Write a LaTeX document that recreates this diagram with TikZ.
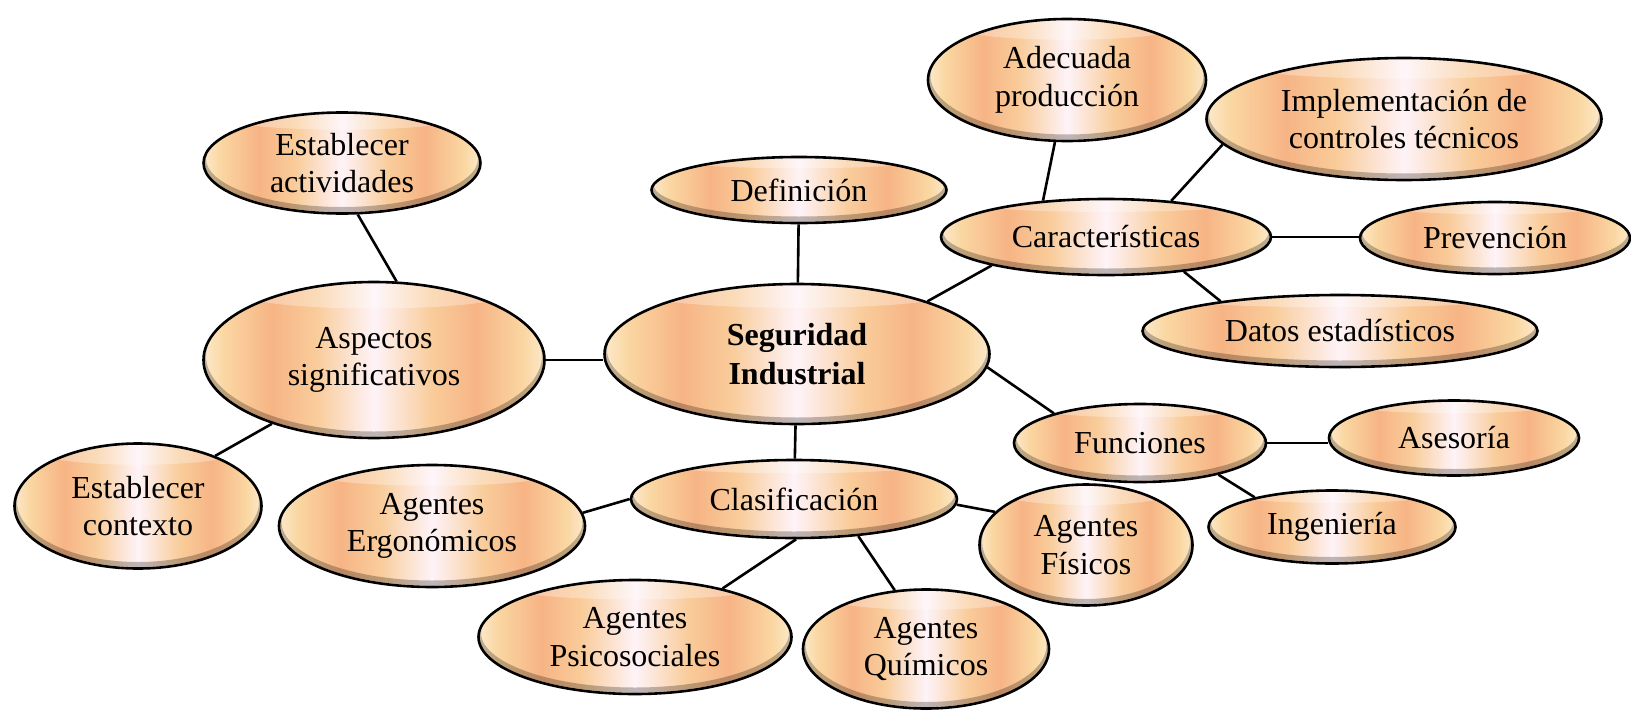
\documentclass[tikz,border=0pt]{standalone}
\usepackage{fontspec}
\setmainfont{Liberation Serif}
\usetikzlibrary{shapes.geometric,calc}
\definecolor{oedge}{HTML}{FCE9CC}
\definecolor{ocream}{HTML}{FAD7A2}
\definecolor{opeach}{HTML}{F7B485}
\definecolor{olight}{HTML}{F9CC9A}
\definecolor{ocenter}{HTML}{FEF3F8}
\pgfdeclarehorizontalshading{orbshade}{100bp}{color(0bp)=(oedge); color(25bp)=(oedge); color(28bp)=(ocream); color(35bp)=(opeach); color(41.5bp)=(olight); color(50bp)=(ocenter); color(58.5bp)=(olight); color(65bp)=(opeach); color(72bp)=(ocream); color(75bp)=(oedge); color(100bp)=(oedge)}
\tikzset{
  bubble/.style={ellipse, draw=black, line width=2.6pt, shading=orbshade, inner sep=0pt,
    align=center, font=\fontsize{32}{37.5}\selectfont,
    path picture={
      \fill[white,opacity=.3] let \p1=(path picture bounding box.south west),
        \p2=(path picture bounding box.north east), \n1={(\x2-\x1)/2}, \n2={(\y2-\y1)/2} in
        ($(path picture bounding box.center)+(0pt,{0.86*\n2*1pt})$) ellipse ({0.8*\n1*1pt} and {0.2*\n2*1pt});
      \draw[black,opacity=.25,line width=5pt] let \p1=(path picture bounding box.south west),
        \p2=(path picture bounding box.north east), \n1={(\x2-\x1)/2}, \n2={(\y2-\y1)/2} in
        ($(path picture bounding box.center)+(0pt,4pt)$) ellipse ({\n1*1pt} and {\n2*1pt});
    }},
  link/.style={draw=black, line width=2.6pt}
}
\begin{document}
\begin{tikzpicture}[x=1pt,y=-1pt]
\useasboundingbox (0,0) rectangle (1631,712);
\node[bubble, minimum width=277pt, minimum height=101pt] (ea) at (342,163) {Establecer\\actividades};
\node[bubble, minimum width=295pt, minimum height=66pt] (def) at (799,190) {Definición};
\node[bubble, minimum width=278pt, minimum height=122pt] (ad) at (1067,80) {Adecuada\\producción};
\node[bubble, minimum width=395pt, minimum height=122pt] (imp) at (1404,119) {Implementación de\\controles técnicos};
\node[bubble, minimum width=330pt, minimum height=76pt] (car) at (1106,237) {Características};
\node[bubble, minimum width=270pt, minimum height=72pt] (pre) at (1495,238) {Prevención};
\node[bubble, minimum width=395pt, minimum height=72pt] (dat) at (1340,331) {Datos estadísticos};
\node[bubble, minimum width=341pt, minimum height=156pt] (as) at (374,360) {Aspectos\\significativos};
\node[bubble, minimum width=385pt, minimum height=140pt, font=\fontsize{32}{38.5}\selectfont\bfseries] (si) at (797,354) {Seguridad\\Industrial};
\node[bubble, minimum width=247pt, minimum height=125pt] (ec) at (138,506) {Establecer\\contexto};
\node[bubble, minimum width=306pt, minimum height=122pt] (erg) at (432,526) {Agentes\\Ergonómicos};
\node[bubble, minimum width=326pt, minimum height=78pt] (cla) at (794,499) {Clasificación};
\node[bubble, minimum width=213pt, minimum height=121pt] (fis) at (1086,545) {Agentes\\Físicos};
\node[bubble, minimum width=313pt, minimum height=114pt] (psi) at (635,637) {Agentes\\Psicosociales};
\node[bubble, minimum width=246pt, minimum height=119pt] (qui) at (926,649) {Agentes\\Químicos};
\node[bubble, minimum width=252pt, minimum height=78pt] (fun) at (1140,443) {Funciones};
\node[bubble, minimum width=250pt, minimum height=75pt] (ase) at (1454,438) {Asesoría};
\node[bubble, minimum width=247pt, minimum height=73pt] (ing) at (1332,527) {Ingeniería};

\draw[link] (ea.-73) -- (as.74);
\draw[link] (as.east) -- (as.east -| si.west);
\draw[link] (as.212) -- (ec.33);
\draw[link] (def) -- (si);
\draw[link] (si.22) -- (car.194);
\draw[link] (ad.259) -- (car.150);
\draw[link] (imp.188) -- (car.29);
\draw[link] (car.east) -- (car.east -| pre.west);
\draw[link] (car.-24) -- (dat.166);
\draw[link] (si.-4) -- (fun.161);
\draw[link] (fun.east) -- (fun.east -| ase.west);
\draw[link] (fun.-22) -- (ing.159);
\draw[link] (si) -- (cla);
\draw[link] (cla.180) -- (erg.5);
\draw[link] (cla.-2) -- (fis.160);
\draw[link] (cla.-87) -- (psi.29);
\draw[link] (cla.-30) -- (qui.118);
\end{tikzpicture}
\end{document}
